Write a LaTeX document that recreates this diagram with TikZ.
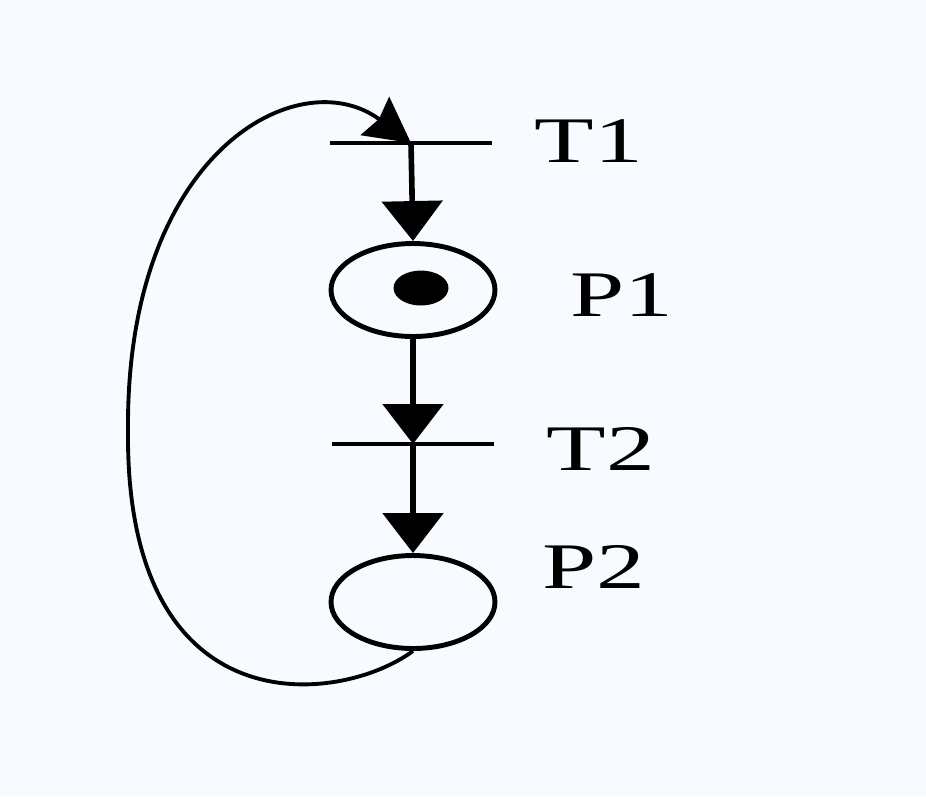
\documentclass[tikz,border=0pt]{standalone}
\usepackage{fontspec}
\setmainfont{Liberation Serif}
\usepackage{graphicx}
\usepackage{tikz}
\usetikzlibrary{shapes.geometric,arrows.meta,positioning,backgrounds}
\definecolor{paperblue}{RGB}{247,251,255}
\newcommand{\widelabel}[1]{\scalebox{1.5}[1]{#1}}

\begin{document}
\begin{tikzpicture}[
      x=0.02cm, y=-0.02cm,
      place/.style={ellipse, draw, line width=2.8pt, inner sep=0pt,
        minimum width=3.28cm, minimum height=1.86cm},
      token/.style={ellipse, fill=black, inner sep=0pt,
        minimum width=1.1cm, minimum height=0.7cm},
      bar/.style={rectangle, draw, line width=1.8pt, inner sep=0pt,
        minimum width=3.24cm, minimum height=0pt},
      lbl/.style={font=\fontsize{37}{40}\selectfont, inner sep=0pt},
      arr/.style={line width=3.2pt, -{Triangle[length=0.8cm, width=1.2cm]}},
      loop/.style={line width=2.2pt,
        -{Stealth[length=0.9cm, width=0.95cm, inset=0.1cm]}},
    ]
    % ── background / page size ────────────────────────────────
    \fill[paperblue] (0,0) rectangle (926,796);

    % ── places and transitions ────────────────────────────────
    \node[bar] (t1) at (411,143) {};
    \node[place] (p1) at (413,290) {};
    \node[token] (tok) at (421,288) {};
    \node[bar] (t2) at (413,444) {};
    \node[place] (p2) at (413,602) {};

    % ── labels ────────────────────────────────────────────────
    \node[lbl] (lt1) at (589,141) {\widelabel{T1}};
    \node[lbl] (lp1) at (622,295) {\widelabel{P1}};
    \node[lbl] (lt2) at (601,449) {\widelabel{T2}};
    \node[lbl] (lp2) at (594,567) {\widelabel{P2}};

    % ── arcs ──────────────────────────────────────────────────
    \draw[arr] (t1.center) -- (p1.north);
    \draw[arr] (p1.south) -- (t2.center);
    \draw[arr] (t2.center) -- (p2.north);

    % return arc P2 -> T1
    \coordinate (loopleft) at (128,430);
    \draw[loop] (p2.south) .. controls (340,705) and (125,730) .. (loopleft)
      .. controls (126,150) and (300,60) .. (t1.center);

\end{tikzpicture}
\end{document}
